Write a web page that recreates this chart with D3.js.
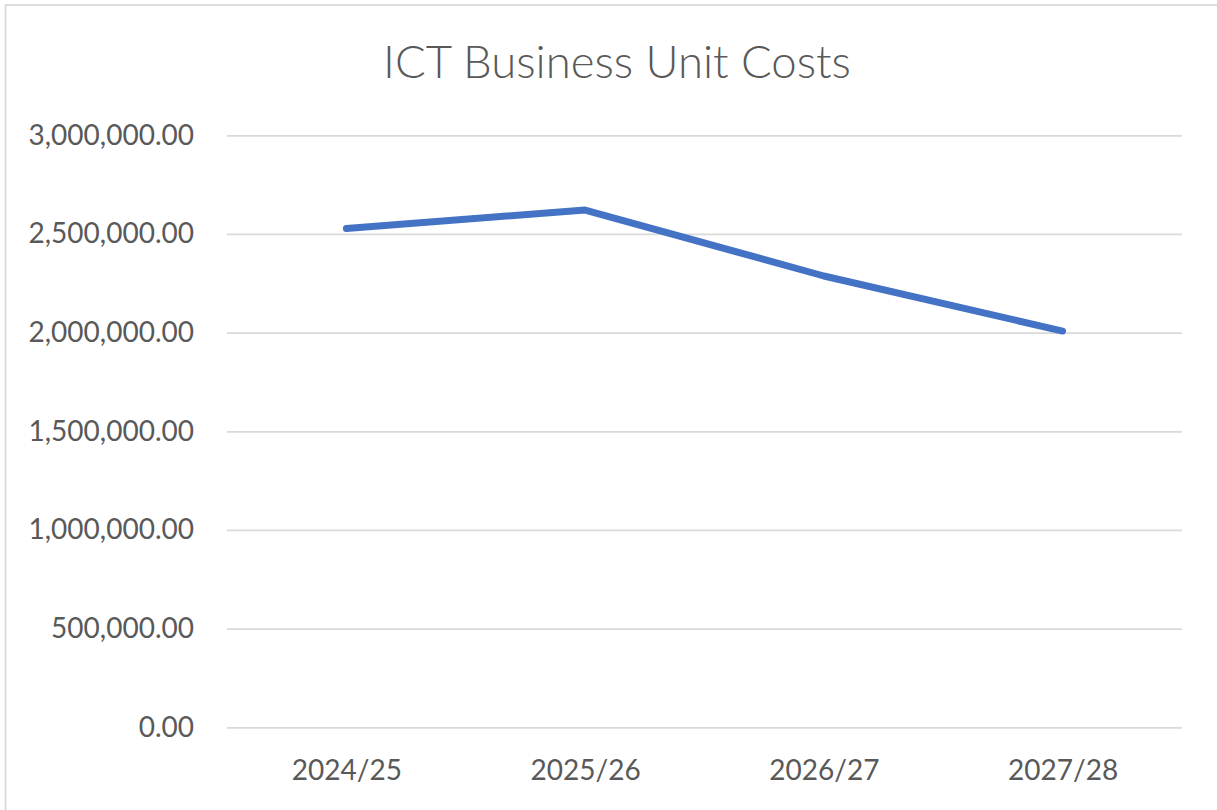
<!DOCTYPE html>
<html>
<head>
<meta charset="utf-8">
<script src="https://cdn.jsdelivr.net/npm/d3@7"></script>
<style>
  html, body { margin: 0; padding: 0; background: #fff; }
  svg { display: block; }
</style>
</head>
<body>
<svg id="chart" width="1217" height="810"></svg>
<script>
// Annual ICT business unit costs
const categories = ["2024/25", "2025/26", "2026/27", "2027/28"];
const costs = [2528000, 2621000, 2287000, 2008000];
const yTicks = [0, 500000, 1000000, 1500000, 2000000, 2500000, 3000000];
const title = "ICT Business Unit Costs";

const W = 1217, H = 810;
const plot = { left: 227, right: 1182, top: 135.3, bottom: 727.3 };
const textColor = "#595959";
const gridColor = "#d9d9d9";
const lineColor = "#4472C4";
const font = "Lato, 'Open Sans', sans-serif";

const svg = d3.select("#chart");

// chart frame
svg.append("rect")
  .attr("x", 5.5).attr("y", 5)
  .attr("width", W + 10).attr("height", H + 10)
  .attr("fill", "#fff")
  .attr("stroke", gridColor).attr("stroke-width", 1.8);

const x = d3.scalePoint().domain(categories).range([plot.left, plot.right]).padding(0.5);
const y = d3.scaleLinear().domain([0, 3000000]).range([plot.bottom, plot.top]);

const fmt = d3.format(",.2f");

// horizontal gridlines + value labels
const yAxis = d3.axisLeft(y)
  .tickValues(yTicks)
  .tickFormat(fmt)
  .tickSize(-(plot.right - plot.left))
  .tickPadding(33);

const gy = svg.append("g")
  .attr("transform", `translate(${plot.left},0)`)
  .call(yAxis);
gy.select(".domain").remove();
gy.selectAll(".tick line").attr("stroke", gridColor).attr("stroke-width", 1.8);
gy.selectAll(".tick text")
  .attr("fill", textColor)
  .style("font-family", font)
  .style("font-size", "28px");

// category labels
const xAxis = d3.axisBottom(x).tickSize(0).tickPadding(33);
const gx = svg.append("g")
  .attr("transform", `translate(0,${plot.bottom})`)
  .call(xAxis);
gx.select(".domain").remove();
gx.selectAll(".tick text")
  .attr("fill", textColor)
  .style("font-family", font)
  .style("font-size", "28px");

// cost line
const line = d3.line()
  .x((d, i) => x(categories[i]))
  .y(d => y(d));

svg.append("path")
  .datum(costs)
  .attr("d", line)
  .attr("fill", "none")
  .attr("stroke", lineColor)
  .attr("stroke-width", 7)
  .attr("stroke-linecap", "round")
  .attr("stroke-linejoin", "round");

// title
svg.append("text")
  .attr("x", 617).attr("y", 78)
  .attr("text-anchor", "middle")
  .attr("fill", textColor)
  .style("font-family", font)
  .style("font-weight", 300)
  .style("font-size", "45.5px")
  .text(title);
</script>
</body>
</html>
